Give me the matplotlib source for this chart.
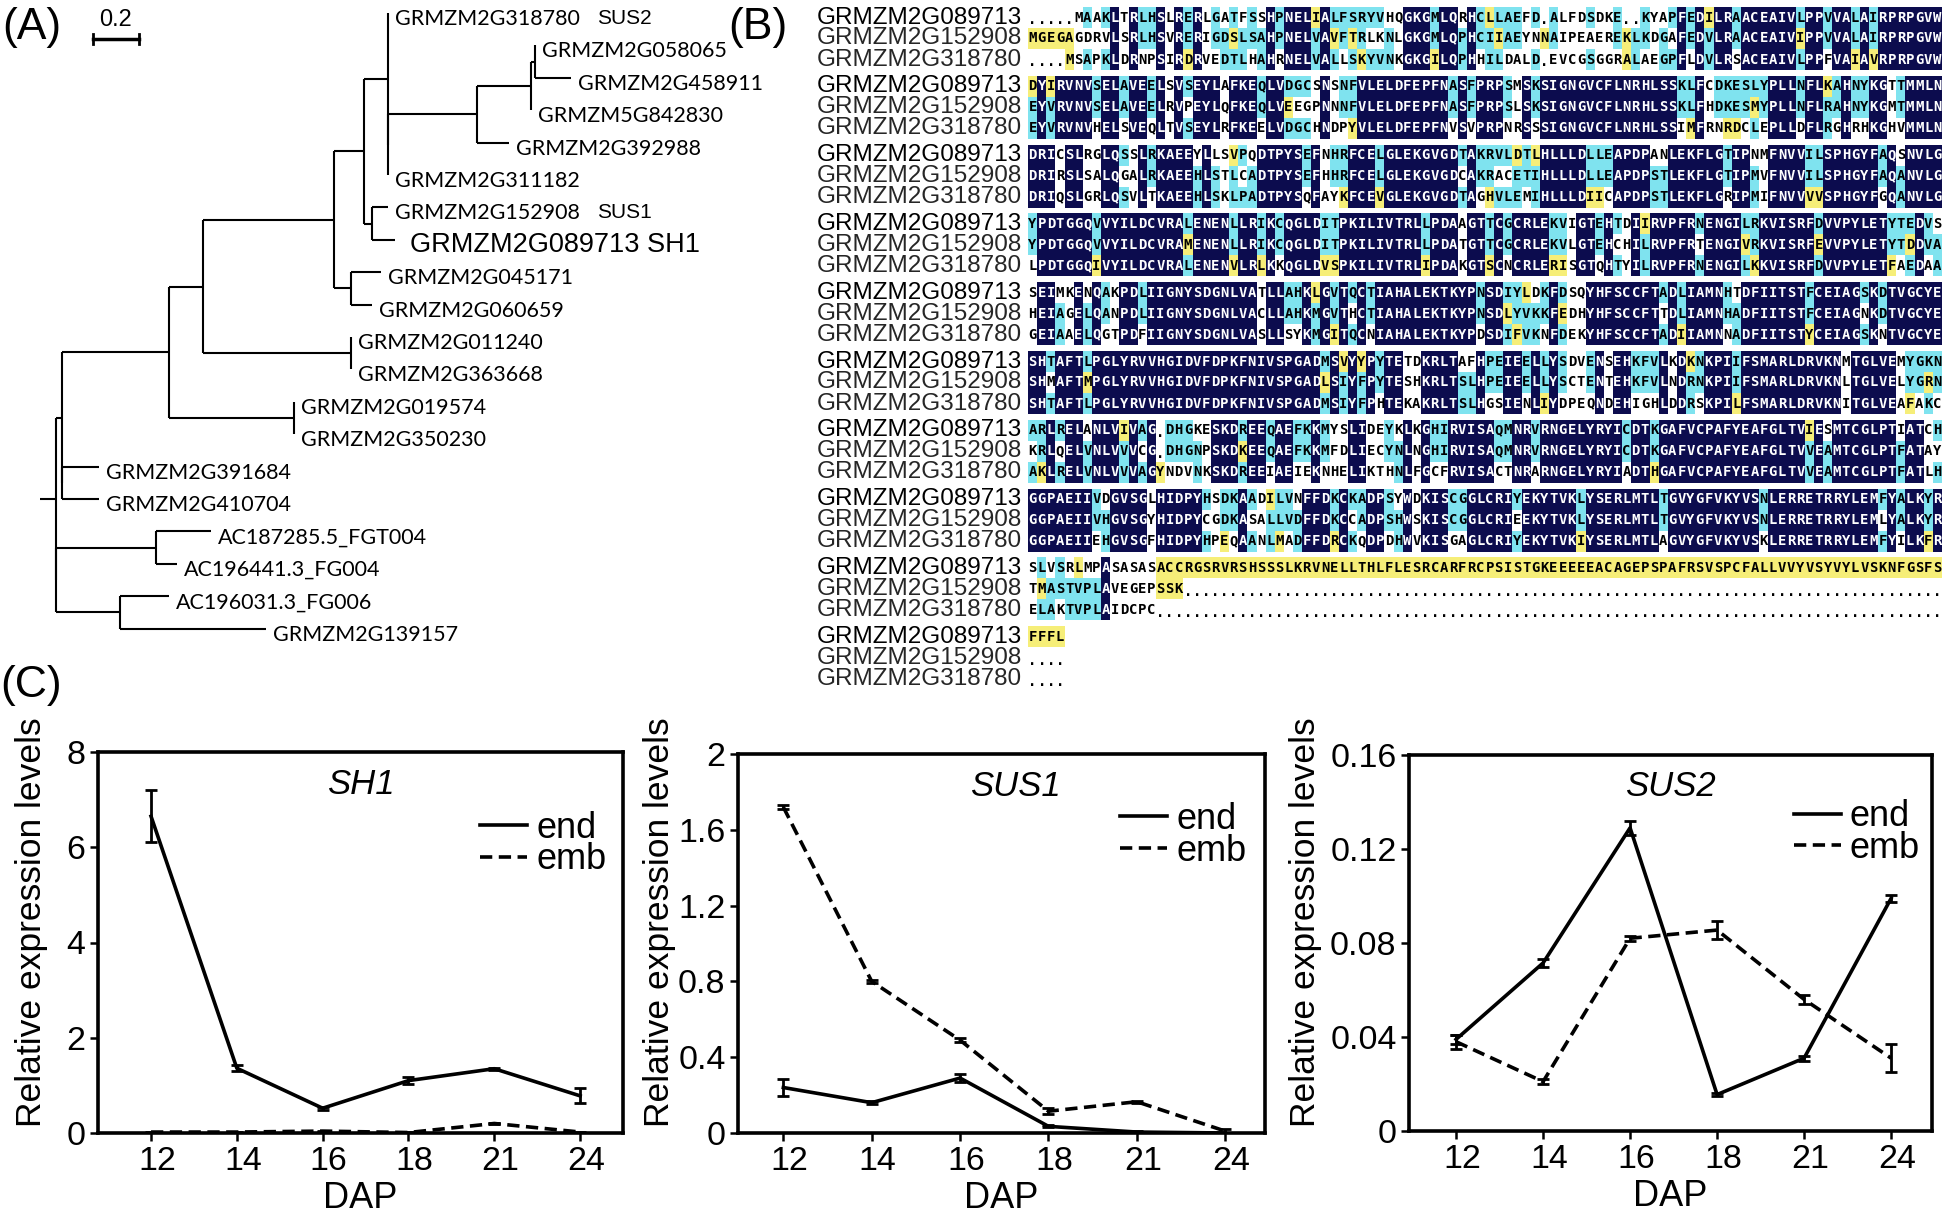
import re

import matplotlib
matplotlib.use("Agg")
import matplotlib.pyplot as plt
from matplotlib.collections import LineCollection, PatchCollection
from matplotlib.lines import Line2D
from matplotlib.patches import Rectangle
from matplotlib.transforms import ScaledTranslation

W, H = 1946, 1217

# ---------------- (A) tree, branch lengths in substitutions/site ----------------
TREE_NEWICK = (
    "(((((((GRMZM2G318780:0,((((GRMZM2G058065:0,GRMZM2G458911:0.157):0.017,"
    "GRMZM5G842830:0):0.235,GRMZM2G392988:0.139):0.387,GRMZM2G311182:0):0):0.104,"
    "(GRMZM2G152908:0.070,GRMZM2G089713:0.100):0.035):0.130,"
    "(GRMZM2G045171:0.130,GRMZM2G060659:0.091):0.074):0.570,"
    "(GRMZM2G011240:0,GRMZM2G363668:0):0.643):0.148,"
    "(GRMZM2G019574:0,GRMZM2G350230:0):0.543):0.465,"
    "(GRMZM2G391684:0.161,GRMZM2G410704:0.161):0):0.026,"
    "((AC187285.5_FGT004:0.239,AC196441.3_FG004:0.091):0.435,"
    "(AC196031.3_FG006:0.213,GRMZM2G139157:0.635):0.278):0);"
)
TREE_TAGS = {"GRMZM2G318780": "SUS2", "GRMZM2G152908": "SUS1"}
TREE_HIGHLIGHT = {"GRMZM2G089713": "GRMZM2G089713 SH1"}
SCALE_BAR = 0.2

# ---------------- (B) alignment ----------------
ALIGN_NAMES = ["GRMZM2G089713", "GRMZM2G152908", "GRMZM2G318780"]
SEQ_SH1 = [
    ".....MAAKLTRLHSLRERLGATFSSHPNELIALFSRYVHQGKGMLQRHCLLAEFD.ALFDSDKE..KYAPFEDILRAACEAIVLPPVVALAIRPRPGVW",
    "DYIRVNVSELAVEELSVSEYLAFKEQLVDGCSNSNFVLELDFEPFNASFPRPSMSKSIGNGVCFLNRHLSSKLFCDKESLYPLLNFLKAHNYKGTTMMLN",
    "DRICSLRGLQSSLRKAEEYLLSVPQDTPYSEFNHRFCELGLEKGVGDTAKRVLDTLHLLLDLLEAPDPANLEKFLGTIPNMFNVVILSPHGYFAQSNVLG",
    "YPDTGGQVVYILDCVRALENENLLRIKCQGLDITPKILIVTRLLPDAAGTTCGCRLEKVIGTEHTDIIRVPFRNENGILRKVISRFDVVPYLETYTEDVS",
    "SEIMKENQAKPDLIIGNYSDGNLVATLLAHKLGVTQCTIAHALEKTKYPNSDIYLDKFDSQYHFSCCFTADLIAMNHTDFIITSTFCEIAGSKDTVGCYE",
    "SHTAFTLPGLYRVVHGIDVFDPKFNIVSPGADMSVYYPYTETDKRLTAFHPEIEELLYSDVENSEHKFVLKDKNKPIIFSMARLDRVKNMTGLVEMYGKN",
    "ARLRELANLVIVAG.DHGKESKDREEQAEFKKMYSLIDEYKLKGHIRVISAQMNRVRNGELYRYICDTKGAFVCPAFYEAFGLTVIESMTCGLPTIATCH",
    "GGPAEIIVDGVSGLHIDPYHSDKAADILVNFFDKCKADPSYWDKISCGGLCRIYEKYTVKLYSERLMTLTGVYGFVKYVSNLERRETRRYLEMFYALKYR",
    "SLVSRLMPASASASACCRGSRVRSHSSSLKRVNELLTHLFLESRCARFRCPSISTGKEEEEEACAGEPSPAFRSVSPCFALLVVYVSYVYLVSKNFGSFS",
    "FFFL",
]
SEQ_SUS1 = [
    "MGEGAGDRVLSRLHSVRERIGDSLSAHPNELVAVFTRLKNLGKGMLQPHCIIAEYNNAIPEAEREKLKDGAFEDVLRAACEAIVIPPVVALAIRPRPGVW",
    "EYVRVNVSELAVEELRVPEYLQFKEQLVEEGPNNNFVLELDFEPFNASFPRPSLSKSIGNGVCFLNRHLSSKLFHDKESMYPLLNFLRAHNYKGMTMMLN",
    "DRIRSLSALQGALRKAEEHLSTLCADTPYSEFHHRFCELGLEKGVGDCAKRACETIHLLLDLLEAPDPSTLEKFLGTIPMVFNVVILSPHGYFAQANVLG",
    "YPDTGGQVVYILDCVRAMENENLLRIKCQGLDITPKILIVTRLLPDATGTTCGCRLEKVLGTEHCHILRVPFRTENGIVRKVISRFEVVPYLETYTDDVA",
    "HEIAGELQANPDLIIGNYSDGNLVACLLAHKMGVTHCTIAHALEKTKYPNSDLYVKKFEDHYHFSCCFTTDLIAMNHADFIITSTFCEIAGNKDTVGCYE",
    "SHMAFTMPGLYRVVHGIDVFDPKFNIVSPGADLSIYFPYTESHKRLTSLHPEIEELLYSCTENTEHKFVLNDRNKPIIFSMARLDRVKNLTGLVELYGRN",
    "KRLQELVNLVVVCG.DHGNPSKDKEEQAEFKKMFDLIECYNLNGHIRVISAQMNRVRNGELYRYICDTKGAFVCPAFYEAFGLTVVEAMTCGLPTFATAY",
    "GGPAEIIVHGVSGYHIDPYCGDKASALLVDFFDKCCADPSHWSKISCGGLCRIEEKYTVKLYSERLMTLTGVYGFVKYVSNLERRETRRYLEMLYALKYR",
    "TMASTVPLAVEGEPSSK" + "." * 83,
    "....",
]
SEQ_SUS2 = [
    "....MSAPKLDRNPSIRDRVEDTLHAHRNELVALLSKYVNKGKGILQPHHILDALD.EVCGSGGRALAEGPFLDVLRSACEAIVLPPFVAIAVRPRPGVW",
    "EYVRVNVHELSVEQLTVSEYLRFKEELVDGCHNDPYVLELDFEPFNVSVPRPNRSSSIGNGVCFLNRHLSSIMFRNRDCLEPLLDFLRGHRHKGHVMMLN",
    "DRIQSLGRLQSVLTKAEEHLSKLPADTPYSQFAYKFCEVGLEKGVGDTAGHVLEMIHLLLDIICAPDPSTLEKFLGRIPMIFNVVVVSPHGYFGQANVLG",
    "LPDTGGQIVYILDCVRALENENVLRLKKQGLDVSPKILIVTRLIPDAKGTSCNCRLERISGTQHTYILRVPFRNENGILKKVISRFDVVPYLETFAEDAA",
    "GEIAAELQGTPDFIIGNYSDGNLVASLLSYKMGITQCNIAHALEKTKYPDSDIFVKNFDEKYHFSCCFTADIIAMNNADFIITSTYCEIAGSKNTVGCYE",
    "SHTAFTLPGLYRVVHGIDVFDPKFNIVSPGADMSIYFPHTEKAKRLTSLHGSIENLIYDPEQNDEHIGHLDDRSKPILFSMARLDRVKNITGLVEAFAKC",
    "AKLRELVNLVVVAGYNDVNKSKDREEIAEIEKNHELIKTHNLFGCFRVISACTNRARNGELYRYIADTHGAFVCPAFYEAFGLTVVEAMTCGLPTFATLH",
    "GGPAEIIEHGVSGFHIDPYHPEQAANLMADFFDRCKQDPDHWVKISGAGLCRIYEKYTVKIYSERLMTLAGVYGFVKYVSKLERRETRRYLEMFYILKFR",
    "ELAKTVPLAIDCPC" + "." * 86,
    "....",
]
SIMILAR = ["ILMV", "FYW", "KRH", "DE", "NQ", "ST"]

# ---------------- (C) qRT-PCR ----------------
DAP = ["12", "14", "16", "18", "21", "24"]
SH1_END = [6.65, 1.36, 0.52, 1.10, 1.35, 0.78]
SH1_END_SD = [0.55, 0.06, 0.03, 0.08, 0.02, 0.16]
SH1_EMB = [0.02, 0.02, 0.04, 0.01, 0.20, 0.02]
SH1_EMB_SD = [0.01, 0.01, 0.01, 0.01, 0.02, 0.01]
SUS1_END = [0.24, 0.16, 0.29, 0.035, 0.005, 0.0]
SUS1_END_SD = [0.045, 0.008, 0.02, 0.005, 0.003, 0.002]
SUS1_EMB = [1.72, 0.80, 0.49, 0.115, 0.165, 0.01]
SUS1_EMB_SD = [0.01, 0.01, 0.01, 0.015, 0.005, 0.01]
SUS2_END = [0.039, 0.0715, 0.129, 0.0155, 0.031, 0.099]
SUS2_END_SD = [0.002, 0.0015, 0.003, 0.0008, 0.001, 0.0015]
SUS2_EMB = [0.038, 0.021, 0.082, 0.0855, 0.056, 0.031]
SUS2_EMB_SD = [0.003, 0.001, 0.001, 0.004, 0.002, 0.006]

SANS = ["Liberation Sans", "DejaVu Sans"]
TREE_FONT = ["Lato", "DejaVu Sans"]
RES_FONT = ["Liberation Sans Narrow", "DejaVu Sans Mono"]
NAVY, CYAN, YELLOW = "#0c0c4e", "#7fe3ef", "#f6ee78"

fig = plt.figure(figsize=(W / 100, H / 100), dpi=100)
ov = fig.add_axes([0, 0, 1, 1])
ov.set_xlim(0, W)
ov.set_ylim(H, 0)
ov.axis("off")


# ---------------- tree ----------------
def parse_newick(s):
    s = s.strip().rstrip(";")
    pos = 0

    def node():
        nonlocal pos
        kids = []
        if s[pos] == "(":
            pos += 1
            while True:
                kids.append(node())
                ch = s[pos]
                pos += 1
                if ch == ")":
                    break
        m = re.match(r"([^:,()]*)(?::([0-9.]+))?", s[pos:])
        pos += m.end()
        return {"name": m.group(1), "bl": float(m.group(2) or 0), "kids": kids}

    return node()


PX_PER_UNIT = 230.0
ROOT_X, LEAF_Y0, LEAF_DY = 56, 13, 32.4
tree = parse_newick(TREE_NEWICK)
leaves = []


def layout(n, x):
    n["x"] = x
    if not n["kids"]:
        n["y"] = LEAF_Y0 + LEAF_DY * len(leaves)
        leaves.append(n)
        return
    for k in n["kids"]:
        layout(k, x + k["bl"] * PX_PER_UNIT)
    n["y"] = (n["kids"][0]["y"] + n["kids"][-1]["y"]) / 2


layout(tree, ROOT_X)
segs = [[(ROOT_X - 16, tree["y"]), (ROOT_X, tree["y"])]]


def collect(n):
    if not n["kids"]:
        return
    ys = [k["y"] for k in n["kids"]]
    segs.append([(n["x"], min(ys)), (n["x"], max(ys))])
    for k in n["kids"]:
        segs.append([(n["x"], k["y"]), (k["x"], k["y"])])
        collect(k)


collect(tree)
ov.add_collection(LineCollection(segs, colors="k", linewidths=1.5))

for lf in leaves:
    if lf["name"] in TREE_HIGHLIGHT:
        ov.text(lf["x"] + 15, lf["y"] + 5, TREE_HIGHLIGHT[lf["name"]], family=SANS,
                fontsize=19.5, va="center")
    else:
        ov.text(lf["x"] + 7, lf["y"] + 6, lf["name"], family=TREE_FONT, fontsize=15.5,
                va="center")
    if lf["name"] in TREE_TAGS:
        ov.text(597, lf["y"] + 5, TREE_TAGS[lf["name"]], family=SANS, fontsize=15,
                va="center")

bar_x0 = 93
ov.plot([bar_x0, bar_x0 + SCALE_BAR * PX_PER_UNIT], [39, 39], color="k", lw=2.5)
ov.plot([bar_x0, bar_x0], [34, 44], color="k", lw=2)
ov.plot([bar_x0 + SCALE_BAR * PX_PER_UNIT] * 2, [34, 44], color="k", lw=2)
ov.text(bar_x0 + SCALE_BAR * PX_PER_UNIT / 2, 20, f"{SCALE_BAR}", family=SANS,
        fontsize=17, ha="center", va="center")

# ---------------- alignment ----------------
SEQ_X0, CELL_W = 1028, 9.14
BLOCK_Y0, BLOCK_DY, ROW_DY = 17.5, 68.8, 21.0
seqs = [SEQ_SH1, SEQ_SUS1, SEQ_SUS2]
rects, rect_cols = [], []
for b in range(len(SEQ_SH1)):
    rows = [s[b] for s in seqs]
    ys = [BLOCK_Y0 + b * BLOCK_DY + r * ROW_DY for r in range(3)]
    for r, name in enumerate(ALIGN_NAMES):
        ov.text(817, ys[r], name, family=SANS, fontsize=17.5, va="center",
                color="k" if r == 0 else "0.15")
    for c in range(max(len(x) for x in rows)):
        col = [x[c] if c < len(x) else " " for x in rows]
        for r, ch in enumerate(col):
            xc = SEQ_X0 + (c + 0.5) * CELL_W
            if ch in ". ":
                if ch == ".":
                    ov.text(xc, ys[r] + 3, ".", family=RES_FONT, fontsize=10,
                            fontweight="bold", ha="center", va="center")
                continue
            others = [col[k] for k in range(3) if k != r]
            same = sum(o == ch for o in others)
            fc = None
            if same == 2:
                fc = NAVY
            elif same == 1:
                fc = CYAN
            elif any(o in ". " for o in others):
                fc = YELLOW
            elif others[0] == others[1] and any(ch in g and others[0] in g for g in SIMILAR):
                fc = YELLOW
            if fc:
                rects.append(Rectangle((SEQ_X0 + c * CELL_W, ys[r] - ROW_DY / 2), CELL_W, ROW_DY))
                rect_cols.append(fc)
            ov.text(xc, ys[r], ch, family=RES_FONT, fontsize=10, fontweight="bold",
                    ha="center", va="center", color="white" if fc == NAVY else "k", zorder=3)
ov.add_collection(PatchCollection(rects, facecolors=rect_cols, edgecolors="none", zorder=1))

ov.text(2, 28, "(A)", family=SANS, fontsize=32, va="center")
ov.text(728, 28, "(B)", family=SANS, fontsize=32, va="center")
ov.text(0, 686, "(C)", family=SANS, fontsize=32, va="center")

# ---------------- expression panels ----------------
DASH = (0, (3.4, 1.8))


def expr_panel(box, xlim, ymax, yticks, ytl, end, end_sd, emb, emb_sd, title, title_x,
               ylab_x, leg_xy):
    l, t, r, b = box
    ax = fig.add_axes([l / W, 1 - b / H, (r - l) / W, (b - t) / H])
    xs = list(range(len(DAP)))
    ax.errorbar(xs, end, yerr=end_sd, color="k", lw=2.6, capsize=4.5, capthick=2,
                elinewidth=2)
    ax.errorbar(xs, emb, yerr=emb_sd, color="k", lw=2.6, ls=DASH, capsize=4.5,
                capthick=2, elinewidth=2)
    ax.set_xlim(*xlim)
    ax.set_ylim(0, ymax)
    ax.set_xticks(xs)
    ax.set_xticklabels(DAP)
    ax.set_yticks(yticks)
    ax.set_yticklabels(ytl)
    for s in ax.spines.values():
        s.set_linewidth(2.6)
    ax.tick_params(direction="out", length=6, width=1.8, labelsize=24.5, pad=3)
    shift = ScaledTranslation(6 / 100, 0, fig.dpi_scale_trans)
    for lab in ax.get_xticklabels():
        lab.set_transform(lab.get_transform() + shift)
    for lab in ax.get_xticklabels() + ax.get_yticklabels():
        lab.set_family(SANS)
    ax.set_xlabel("DAP", family=SANS, fontsize=26, labelpad=3)
    ax.text(title_x, 0.915, title, transform=ax.transAxes, ha="center", va="center",
            family=SANS, fontsize=25, style="italic")
    handles = [Line2D([], [], color="k", lw=2.6), Line2D([], [], color="k", lw=2.6, ls=DASH)]
    ax.legend(handles, ["end", "emb"], loc="upper left", bbox_to_anchor=leg_xy,
              frameon=False, prop={"family": SANS, "size": 26}, handlelength=1.3,
              handletextpad=0.25, labelspacing=-0.1, borderpad=0, borderaxespad=0)
    fig.text(ylab_x / W, 1 - 922 / H, "Relative expression levels", rotation=90,
             ha="center", va="center", family=SANS, fontsize=25.5)
    return ax


expr_panel((98, 752, 623, 1133), (-0.618, 5.5), 8, [0, 2, 4, 6, 8],
           ["0", "2", "4", "6", "8"], SH1_END, SH1_END_SD, SH1_EMB, SH1_EMB_SD,
           "SH1", 0.5, 32, (0.728, 0.845))
expr_panel((738, 754, 1265, 1133), (-0.513, 5.45), 2, [0, 0.4, 0.8, 1.2, 1.6, 2],
           ["0", "0.4", "0.8", "1.2", "1.6", "2"], SUS1_END, SUS1_END_SD, SUS1_EMB,
           SUS1_EMB_SD, "SUS1", 0.527, 659, (0.725, 0.873))
expr_panel((1409, 755, 1932, 1131), (-0.541, 5.47), 0.16, [0, 0.04, 0.08, 0.12, 0.16],
           ["0", "0.04", "0.08", "0.12", "0.16"], SUS2_END, SUS2_END_SD, SUS2_EMB,
           SUS2_EMB_SD, "SUS2", 0.5, 1305, (0.736, 0.882))

fig.savefig("out.png", dpi=100)
